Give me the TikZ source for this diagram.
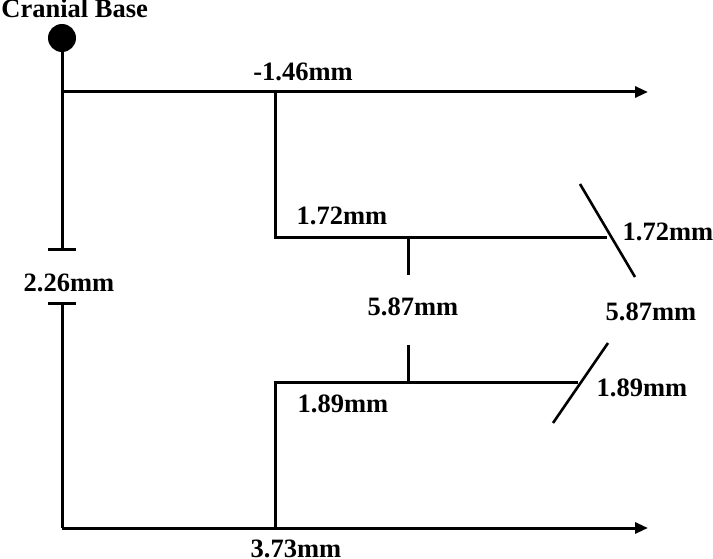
\documentclass[tikz,border=0pt]{standalone}
\usepackage{fontspec}
\setmainfont{Liberation Serif}
\usetikzlibrary{arrows.meta}
\begin{document}
\begin{tikzpicture}[x=1pt,y=-1pt,line width=3pt,
  lbl/.style={font=\fontsize{26.5}{26.5}\selectfont\bfseries,inner sep=0pt},
  arr/.style={-{Triangle[length=13pt,width=11pt]}},
  slash/.style={line width=2.6pt}]
\useasboundingbox (0,0) rectangle (713,559);
% coordinates
\coordinate (a1) at (62,92);
\coordinate (a2) at (648,92);
\coordinate (t1) at (62,250);
\coordinate (t1l) at (48,250);
\coordinate (t1r) at (76,250);
\coordinate (t2) at (62,303);
\coordinate (t2l) at (48,303);
\coordinate (t2r) at (76,303);
\coordinate (bl) at (62,528);
\coordinate (br) at (648,528);
\coordinate (v1t) at (275,92);
\coordinate (v1b) at (275,238);
\coordinate (h1r) at (607,238);
\coordinate (v2t) at (275,382);
\coordinate (v2b) at (275,528);
\coordinate (h2r) at (578,382);
\coordinate (m1t) at (408,238);
\coordinate (m1b) at (408,275);
\coordinate (m2t) at (408,345);
\coordinate (m2b) at (408,382);
\coordinate (s1a) at (580,184);
\coordinate (s1b) at (635,277);
\coordinate (s2a) at (608,343);
\coordinate (s2b) at (553,423);
% nodes
\node[lbl,anchor=base west] (cb) at (0,18) {Cranial Base};
\node[circle,fill,minimum size=28pt,inner sep=0pt] (dot) at (62,38) {};
\node[lbl] (l146) at (303,72) {-1.46mm};
\node[lbl] (l172a) at (342,216) {1.72mm};
\node[lbl] (l172b) at (668,232) {1.72mm};
\node[lbl] (l587a) at (413,307) {5.87mm};
\node[lbl] (l587b) at (651,312) {5.87mm};
\node[lbl] (l189a) at (343,404) {1.89mm};
\node[lbl] (l189b) at (642,388) {1.89mm};
\node[lbl] (l226) at (69,283) {2.26mm};
\node[lbl] (l373) at (296,549) {3.73mm};
% lines
\draw (dot.center) -- (t1);
\draw (t1l) -- (t1r);
\draw (t2l) -- (t2r);
\draw (t2) -- (bl);
\draw[arr] (a1) -- (a2);
\draw[arr] (bl) -- (br);
\draw (v1t) -- (v1b) -- (h1r);
\draw (h2r) -- (v2t) -- (v2b);
\draw (m1t) -- (m1b);
\draw (m2t) -- (m2b);
\draw[slash] (s1a) -- (s1b);
\draw[slash] (s2a) -- (s2b);
\end{tikzpicture}
\end{document}
